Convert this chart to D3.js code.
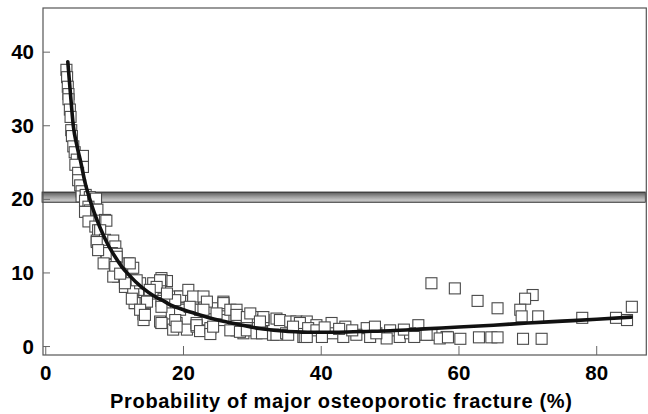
<!DOCTYPE html>
<html>
<head>
<meta charset="utf-8">
<script src="https://cdn.jsdelivr.net/npm/d3@7"></script>
<style>
  html, body { margin: 0; padding: 0; background: #fff; }
  svg { display: block; }
  text { font-family: "Liberation Sans", Arial, Helvetica, sans-serif; font-weight: bold; fill: #000; }
</style>
</head>
<body>
<svg id="chart" width="648" height="414"></svg>
<script>
// ---------- data ----------
const xTicks = [0, 20, 40, 60, 80];
const yTicks = [0, 10, 20, 30, 40];
const xLabel = "Probability of major osteoporotic fracture (%)";
const thresholdBand = [19.6, 21.0];

// observed points [probability, value]
const pointsTop = [
  [3.0,37.6],[3.1,36.6],[3.2,35.3],[3.3,34.3],[3.3,33.6],[3.5,32.2],[3.6,31.2],[3.7,29.4],
  [3.8,28.6],[4.0,27.2],[4.2,26.4],[4.5,25.4],[5.4,25.9],[5.4,24.4],[4.3,24.7],[4.7,23.6],
  [4.7,22.6],[5.0,21.9],[5.2,21.1],[5.2,20.4],[5.8,20.6],[6.4,20.3],[5.7,19.8],[6.9,19.6],
  [7.3,20.1],[6.2,19.0],[6.4,18.5],[5.7,18.3],[7.5,18.6]
];
const pointsMid = [
  [6.2,17.0],[7.2,16.3],[7.6,15.8],[8.6,17.2],[8.8,17.1],[7.9,15.8],[7.4,14.4],[8.6,14.5],
  [9.8,14.4],[10.1,13.6],[9.6,12.7],[8.8,12.6],[10.3,12.6],[12.0,11.3],[12.7,10.7],[10.1,10.6],
  [10.3,9.8],[10.5,9.5],[11.7,8.5],[12.5,9.0],[11.5,8.1],[13.4,7.7],[12.7,6.7],[12.7,7.7],
  [13.0,5.9],[14.4,5.9],[14.4,4.5],[14.2,4.4],[14.2,3.6],[13.7,8.6],[15.6,8.6],[16.8,9.3],
  [17.6,8.9],[16.8,9.0],[16.6,8.1],[15.9,7.2],[16.6,7.6],[14.7,6.1],[12.9,5.9],[17.1,6.5],
  [16.8,6.2],[17.3,5.9],[16.8,3.2],[16.6,3.4],[18.3,4.5],[19.0,3.2],[18.5,2.3],[19.0,6.8],
  [19.5,6.7],[19.5,5.0],[20.5,2.3],[21.4,6.2]
];
const pointsFill = [
  [7.4,14.2],[8.85,12.7],[7.6,13.1],[10.3,12.2],[12.2,11.3],[10.1,10.8],[9.8,9.5],[11.5,8.6],
  [13.2,9.0],[16.6,9.0],[16.1,8.1],[15.1,7.7],[12.5,6.5],[13.7,5.0],[14.4,4.3],[16.8,5.4],
  [16.8,3.2],[18.8,3.6],[19.0,2.7],[19.5,6.8],[21.4,6.5],[18.8,6.3],[22.4,5.0],[21.9,2.7],
  [23.6,2.2],[24.3,5.2],[25.8,5.6],[25.8,3.6],[27.7,4.0],[27.7,2.2],[29.2,3.4],[28.7,1.8],
  [30.6,4.0],[31.6,3.6],[31.4,2.0],[17.6,7.2],[10.8,9.9],[8.4,11.3]
];
const pointsLow = [
  [20.7,7.7],[21.4,6.8],[22.9,6.8],[23.4,6.1],[25.8,6.1],[25.8,5.9],[20.9,5.4],[22.9,5.0],
  [24.8,4.5],[26.8,5.0],[27.7,5.0],[27.7,4.3],[29.2,4.0],[29.7,4.5],[31.6,3.6],[31.6,4.0],
  [33.5,3.8],[34.0,3.6],[35.5,3.4],[36.4,3.4],[37.9,3.4],[39.3,2.9],[21.9,3.2],[21.9,2.9],
  [22.4,2.1],[23.9,2.5],[23.9,1.7],[24.3,2.7],[26.8,2.2],[28.2,2.0],[29.2,2.2],[30.6,1.8],
  [31.4,1.8],[31.1,3.4],[33.0,1.6],[33.5,1.6],[34.9,1.8],[35.2,1.6],[37.4,1.3],[37.6,1.3]
];
const pointsFlat = [
  [36.9,3.2],[38.1,2.5],[39.3,2.2],[35.9,2.7],[41.5,3.2],[43.5,2.7],[41.7,1.8],[43.2,1.3],
  [46.6,2.5],[45.1,1.6],[47.1,1.3],[50.0,2.2],[49.5,1.1],[51.4,1.3],[54.1,2.9],[52.9,1.8],
  [54.8,1.6],[58.2,1.3],[37.9,1.3],[40.1,1.3],[48.0,1.8],[44.5,2.2],[42.6,2.4],[40.5,2.6],
  [47.8,2.7],[52.0,2.3],[53.5,1.3],[56.0,1.6]
];
const pointsRight = [
  [55.3,1.6],[57.2,1.1],[58.4,1.25],[60.2,1.05],[62.9,1.25],[64.7,1.25],[65.6,1.25],[69.3,1.05],
  [72.0,1.05],[56.0,8.6],[59.4,7.9],[62.7,6.2],[65.6,5.2],[70.7,7.0],[69.6,6.5],[68.9,5.0],
  [69.1,4.1],[71.5,4.1],[77.9,3.9],[82.8,3.9],[84.4,3.6],[85.1,5.4]
];

// fitted curve
const curveX = [3.2,3.6,4.0,4.5,5.1,5.7,6.4,7,8,9,10,11,12,14,16,17.1,18,20,22,25,28,31,34,38,42,46,50,55,60,65,70,75,80,85];
const curveY = [38.7,34.2,30.0,27.4,25.0,22.3,20.0,18.3,15.9,13.9,12.3,10.9,9.8,8.0,6.7,6.2,5.7,5.0,4.4,3.6,3.0,2.45,2.15,1.95,1.95,2.05,2.15,2.4,2.65,2.9,3.2,3.45,3.7,4.0];

// ---------- drawing ----------
const svg = d3.select("#chart");
const x = d3.scaleLinear().domain([-0.4, 87.2]).range([43, 646.3]);
const y = d3.scaleLinear().domain([-1.15, 46]).range([355, 8]);
const [x0, x1] = x.domain();
const [y0, y1] = y.domain();

const defs = svg.append("defs");
const grad = defs.append("linearGradient").attr("id", "band").attr("x1", 0).attr("y1", 0).attr("x2", 0).attr("y2", 1);
[["0%", "#3a3a3a"], ["12%", "#6a6a6a"], ["45%", "#9a9a9a"], ["80%", "#c6c6c6"], ["92%", "#b0b0b0"], ["100%", "#444"]]
  .forEach(([o, c]) => grad.append("stop").attr("offset", o).attr("stop-color", c));

// threshold band
svg.append("rect")
  .attr("x", x(x0) - 1)
  .attr("y", y(thresholdBand[1]))
  .attr("width", x(x1) - x(x0))
  .attr("height", y(thresholdBand[0]) - y(thresholdBand[1]))
  .attr("fill", "url(#band)")
  .attr("stroke", "#333")
  .attr("stroke-width", 0.8);

// points
const allPoints = pointsTop.concat(pointsMid, pointsFill, pointsLow, pointsFlat, pointsRight);
const sz = 11;
svg.append("g").selectAll("rect").data(allPoints).join("rect")
  .attr("x", d => x(d[0]) - sz / 2)
  .attr("y", d => y(d[1]) - sz / 2)
  .attr("width", sz).attr("height", sz)
  .attr("fill", "#fff")
  .attr("stroke", "#4a4a4a")
  .attr("stroke-width", 1.1);

// curve
const line = d3.line().x(d => x(d[0])).y(d => y(d[1])).curve(d3.curveMonotoneX);
svg.append("path")
  .datum(curveX.map((v, i) => [v, curveY[i]]))
  .attr("d", line)
  .attr("fill", "none")
  .attr("stroke", "#111")
  .attr("stroke-width", 3.6)
  .attr("stroke-linecap", "round");

// frame
svg.append("rect")
  .attr("x", x(x0)).attr("y", y(y1))
  .attr("width", x(x1) - x(x0)).attr("height", y(y0) - y(y1))
  .attr("fill", "none").attr("stroke", "#555").attr("stroke-width", 1.2);

// ticks (inward)
svg.append("g").selectAll("line").data(xTicks).join("line")
  .attr("x1", d => x(d)).attr("x2", d => x(d))
  .attr("y1", y(y0)).attr("y2", y(y0) - 9)
  .attr("stroke", "#666").attr("stroke-width", 1);
svg.append("g").selectAll("line").data(yTicks).join("line")
  .attr("x1", x(x0)).attr("x2", x(x0) + 7)
  .attr("y1", d => y(d)).attr("y2", d => y(d))
  .attr("stroke", "#666").attr("stroke-width", 1);

// tick labels
svg.append("g").selectAll("text").data(xTicks).join("text")
  .attr("x", d => x(d)).attr("y", 380)
  .attr("text-anchor", "middle").attr("font-size", 20.5)
  .text(d => d);
svg.append("g").selectAll("text").data(yTicks).join("text")
  .attr("x", 34).attr("y", d => y(d) + 7)
  .attr("text-anchor", "end").attr("font-size", 20.5)
  .text(d => d);

// axis title
svg.append("text")
  .attr("x", 341).attr("y", 408)
  .attr("text-anchor", "middle").attr("font-size", 20)
  .attr("textLength", 462).attr("lengthAdjust", "spacing")
  .text(xLabel);
</script>
</body>
</html>
